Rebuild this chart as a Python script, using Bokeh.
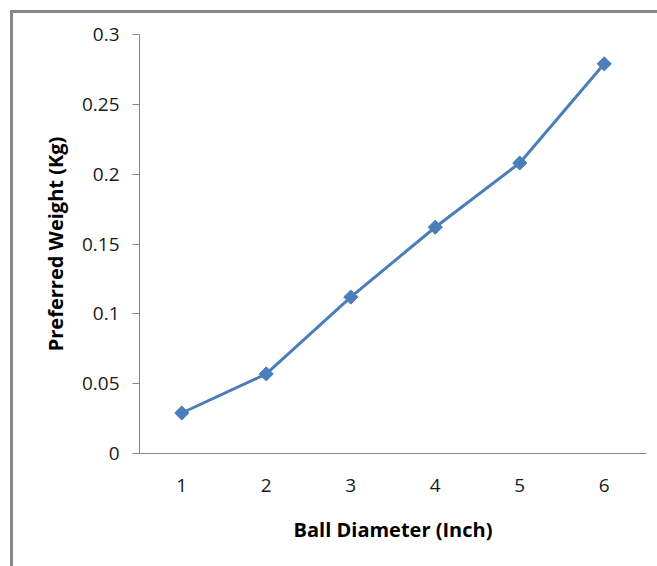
from bokeh.plotting import figure
from bokeh.models import FixedTicker, NumeralTickFormatter, Range1d, InlineStyleSheet
from bokeh.embed import file_html
from bokeh.resources import INLINE

# Preferred ball weight against ball diameter
diameters = [1, 2, 3, 4, 5, 6]
weights = [0.029, 0.057, 0.112, 0.162, 0.208, 0.279]
y_ticks = [0, 0.05, 0.1, 0.15, 0.2, 0.25, 0.3]

LINE = "#4A7EBB"
AXIS = "#868686"
FONT = "Open Sans"

p = figure(
    width=657, height=566,
    output_backend="svg", toolbar_location=None,
    x_range=Range1d(0.5, 6.5), y_range=Range1d(0, 0.3),
    min_border_left=139, min_border_right=11,
    min_border_top=34, min_border_bottom=113,
)
p.outline_line_color = None
p.xgrid.grid_line_color = None
p.ygrid.grid_line_color = None

p.line(diameters, weights, line_color=LINE, line_width=3)
p.scatter(diameters, weights, marker="square", angle=0.785398, size=10,
          fill_color=LINE, line_color=LINE)

# x axis: category-style labels, no tick marks
xa = p.xaxis[0]
xa.ticker = FixedTicker(ticks=diameters)
xa.minor_tick_line_color = None
xa.major_tick_out = 0
xa.major_tick_in = 0
xa.axis_line_color = AXIS
xa.major_label_text_font = FONT
xa.major_label_text_font_size = "19px"
xa.major_label_text_color = "#1a1a1a"
xa.major_label_standoff = 25
xa.axis_label = "Ball Diameter (Inch)"
xa.axis_label_text_font = FONT
xa.axis_label_text_font_style = "bold"
xa.axis_label_text_font_size = "20px"
xa.axis_label_text_color = "#000000"
xa.axis_label_standoff = 21

# y axis
ya = p.yaxis[0]
ya.ticker = FixedTicker(ticks=y_ticks)
ya.formatter = NumeralTickFormatter(format="0.[00]")
ya.minor_tick_line_color = None
ya.major_tick_out = 7
ya.major_tick_in = 0
ya.axis_line_color = AXIS
ya.major_tick_line_color = AXIS
ya.major_label_text_font = FONT
ya.major_label_text_font_size = "19px"
ya.major_label_text_color = "#1a1a1a"
ya.major_label_standoff = 13
ya.axis_label = "Preferred Weight (Kg)"
ya.axis_label_text_font = FONT
ya.axis_label_text_font_style = "bold"
ya.axis_label_text_font_size = "20px"
ya.axis_label_text_color = "#000000"
ya.axis_label_standoff = 10

# chart-area border (top and left edges inside the page)
p.stylesheets = [InlineStyleSheet(css="""
:host { position: relative; }
:host::after {
  content: "";
  position: absolute;
  left: 10px; top: 10px; right: 0; bottom: 0;
  border-left: 3px solid #878787;
  border-top: 3px solid #878787;
  pointer-events: none;
}
""")]

open("out.html", "w").write(file_html(p, INLINE))
